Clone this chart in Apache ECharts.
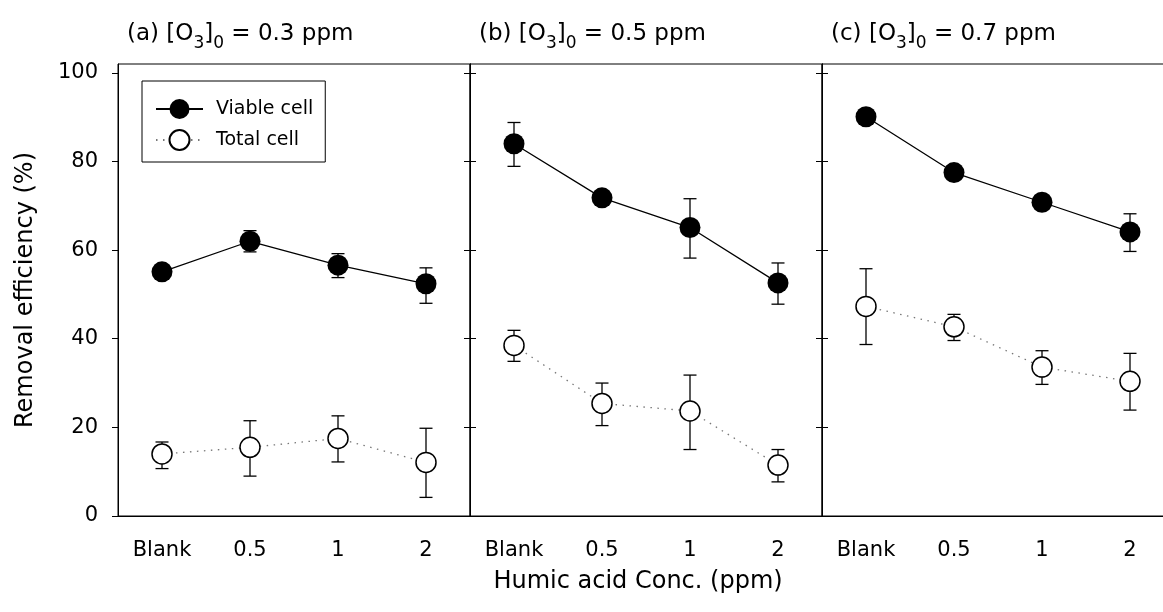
<!DOCTYPE html>
<html>
<head>
<meta charset="utf-8">
<script src="https://cdn.jsdelivr.net/npm/echarts@6/dist/echarts.min.js"></script>
<style>
  html, body { margin: 0; padding: 0; background: #fff; overflow: hidden; }
  /* the reference crops the right panel, so the canvas is a bit wider than the window */
  #main { width: 1180px; height: 612px; }
</style>
</head>
<body>
<div id="main"></div>
<script>
// categories / tick labels
var categories = ['Blank', '0.5', '1', '2'];
var yTicks = [0, 20, 40, 60, 80, 100];
var panelTitles = [
  '(a) [O{sub|3}]{sub|0} = 0.3 ppm',
  '(b) [O{sub|3}]{sub|0} = 0.5 ppm',
  '(c) [O{sub|3}]{sub|0} = 0.7 ppm'
];

// Viable cell (mean, error bar low / high) per panel
var viable = [[55.1, 62.0, 56.6, 52.4], [84.0, 71.8, 65.1, 52.6], [90.1, 77.5, 70.8, 64.1]];
var viableLow = [[null, 59.6, 53.8, 48.0], [78.9, null, 58.2, 47.8], [null, null, null, 59.7]];
var viableHigh = [[null, 64.4, 59.2, 56.0], [88.8, null, 71.6, 57.1], [null, null, null, 68.2]];

// Total cell
var total = [[14.0, 15.5, 17.5, 12.1], [38.5, 25.4, 23.7, 11.5], [47.3, 42.7, 33.6, 30.4]];
var totalLow = [[10.7, 9.0, 12.2, 4.2], [34.9, 20.4, 15.0, 7.7], [38.7, 39.6, 29.7, 23.9]];
var totalHigh = [[16.7, 21.5, 22.6, 19.8], [41.9, 30.0, 31.8, 15.0], [55.8, 45.5, 37.3, 36.7]];

var chart = echarts.init(document.getElementById('main'));
var FONT = 'DejaVu Sans, sans-serif';

function errData(lo, hi) {
  var out = [];
  for (var i = 0; i < lo.length; i++) {
    if (lo[i] != null) out.push([i, lo[i], hi[i]]);
  }
  return out;
}

function renderErrorBar(params, api) {
  var x = api.value(0);
  var lo = api.coord([x, api.value(1)]);
  var hi = api.coord([x, api.value(2)]);
  var cap = 6.5;
  var st = { stroke: '#000', lineWidth: 1.3 };
  return {
    type: 'group',
    children: [
      { type: 'line', shape: { x1: lo[0], y1: lo[1], x2: hi[0], y2: hi[1] }, style: st },
      { type: 'line', shape: { x1: lo[0] - cap, y1: lo[1], x2: lo[0] + cap, y2: lo[1] }, style: st },
      { type: 'line', shape: { x1: hi[0] - cap, y1: hi[1], x2: hi[0] + cap, y2: hi[1] }, style: st }
    ]
  };
}

var gridLefts = [118, 470, 822];
var grids = [], xAxes = [], yAxes = [], series = [], titles = [];

for (var p = 0; p < 3; p++) {
  grids.push({
    left: gridLefts[p], top: 64, width: 352, height: 452,
    show: true, borderColor: '#000', borderWidth: 1
  });
  xAxes.push({
    type: 'category', gridIndex: p, data: categories, boundaryGap: true,
    axisLine: { lineStyle: { color: '#000', width: 1 } },
    axisTick: { alignWithLabel: true, length: 6, lineStyle: { color: '#000' } },
    axisLabel: { color: '#000', fontSize: 21, fontFamily: FONT, margin: 24 }
  });
  yAxes.push({
    type: 'value', gridIndex: p, min: 0, max: 102,
    name: p === 0 ? 'Removal efficiency (%)' : '',
    nameLocation: 'middle', nameGap: 80,
    nameTextStyle: { color: '#000', fontSize: 24, fontFamily: FONT },
    splitLine: { show: false },
    axisLine: { show: true, lineStyle: { color: '#000', width: 1 } },
    axisTick: { show: true, inside: p > 0, length: 6, customValues: yTicks, lineStyle: { color: '#000' } },
    axisLabel: { show: p === 0, customValues: yTicks, color: '#000', fontSize: 21, fontFamily: FONT, margin: 20 }
  });
  titles.push({
    text: panelTitles[p],
    left: gridLefts[p] + 4, top: 12,
    textStyle: {
      color: '#000', fontSize: 23, fontWeight: 'normal', fontFamily: FONT,
      rich: {
        sub: { fontSize: 17, fontFamily: FONT, color: '#000', padding: [18, 0, 0, 0] }
      }
    }
  });
}
// right-side ticks of panels a and b (pointing back into the panel, so they cross the border)
for (var q = 0; q < 2; q++) {
  yAxes.push({
    type: 'value', gridIndex: q, min: 0, max: 102, position: 'right',
    splitLine: { show: false },
    axisLine: { show: true, lineStyle: { color: '#000', width: 1 } },
    axisTick: { show: true, inside: true, length: 6, customValues: yTicks, lineStyle: { color: '#000' } },
    axisLabel: { show: false }
  });
}

for (var k = 0; k < 3; k++) {
  series.push({
    type: 'custom', xAxisIndex: k, yAxisIndex: k, z: 1,
    renderItem: renderErrorBar, encode: { x: 0, y: [1, 2] },
    data: errData(viableLow[k], viableHigh[k]), silent: true
  });
  series.push({
    type: 'custom', xAxisIndex: k, yAxisIndex: k, z: 1,
    renderItem: renderErrorBar, encode: { x: 0, y: [1, 2] },
    data: errData(totalLow[k], totalHigh[k]), silent: true
  });
  series.push({
    name: 'Viable cell', type: 'line', xAxisIndex: k, yAxisIndex: k, z: 3,
    data: viable[k], symbol: 'circle', symbolSize: 21,
    itemStyle: { color: '#000' },
    lineStyle: { color: '#000', width: 1.3, type: 'solid' }
  });
  series.push({
    name: 'Total cell', type: 'line', xAxisIndex: k, yAxisIndex: k, z: 3,
    data: total[k], symbol: 'circle', symbolSize: 20,
    itemStyle: { color: '#fff', borderColor: '#000', borderWidth: 1.5 },
    lineStyle: { color: '#777', width: 1.3, type: [1.5, 5.5] }
  });
}

var option = {
  animation: false,
  backgroundColor: '#fff',
  title: titles,
  legend: {
    data: ['Viable cell', 'Total cell'],
    orient: 'vertical',
    left: 142, top: 81,
    padding: [18, 12, 11, 13],
    itemWidth: 47, itemHeight: 25, itemGap: 10,
    borderColor: '#000', borderWidth: 1,
    textStyle: { color: '#000', fontSize: 19, fontFamily: FONT, padding: [0, 0, 0, 8] }
  },
  graphic: [{
    type: 'text', x: 638, y: 582,
    style: {
      text: 'Humic acid Conc. (ppm)', fill: '#000', font: '24px ' + FONT,
      textAlign: 'center', textVerticalAlign: 'middle'
    }
  }],
  grid: grids,
  xAxis: xAxes,
  yAxis: yAxes,
  series: series
};

chart.setOption(option);
</script>
</body>
</html>
